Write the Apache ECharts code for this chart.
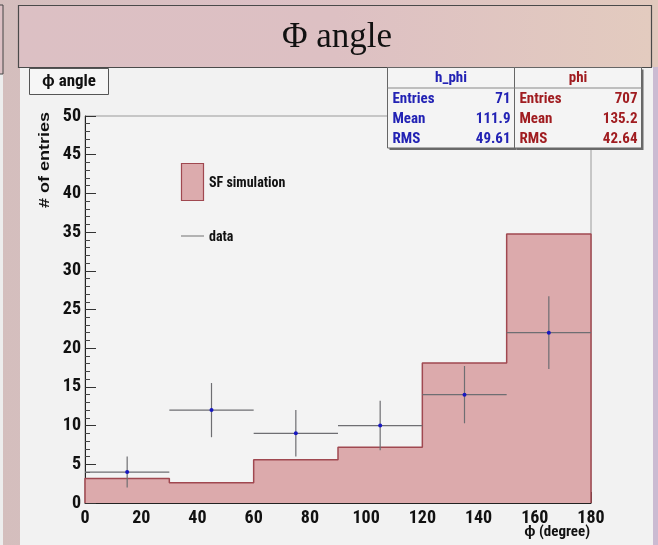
<!DOCTYPE html>
<html>
<head>
<meta charset="utf-8">
<script src="https://cdn.jsdelivr.net/npm/echarts@6/dist/echarts.min.js"></script>
<style>
html,body{margin:0;padding:0;}
body{width:658px;height:545px;overflow:hidden;background:linear-gradient(90deg,#d4bebd 0%,#dcc0c5 40%,#e1c9bd 100%);}
#chart{width:658px;height:545px;}
</style>
</head>
<body>
<div id="chart"></div>
<script>
// ---- data ----
const binEdges = [0, 30, 60, 90, 120, 150, 180];
const simCounts = [3.15, 2.62, 5.6, 7.2, 18.1, 34.75];
const dataX = [15, 45, 75, 105, 135, 165];
const dataY = [4, 12, 9, 10, 14, 22];
const dataErr = [2.0, 3.5, 3.0, 3.2, 3.7, 4.7];
const statLabels = ['Entries', 'Mean', 'RMS'];
const hphiStats = ['71', '111.9', '49.61'];
const phiStats = ['707', '135.2', '42.64'];

const FONT = '"Liberation Sans Narrow","Roboto Condensed","Liberation Sans",Arial,sans-serif';
const WIDE = '"Liberation Sans",Arial,sans-serif';

// step outline points built from bin edges
const stepPts = [[binEdges[0], 0]];
for (let i = 0; i < simCounts.length; i++) stepPts.push([binEdges[i], simCounts[i]]);
stepPts.push([binEdges[binEdges.length - 1], simCounts[simCounts.length - 1]]);
stepPts.push([binEdges[binEdges.length - 1], 0]);

const halfW = (binEdges[1] - binEdges[0]) / 2;
const errData = dataX.map((x, i) => [x, dataY[i], dataErr[i]]);

function statsBox(x, y, w, title, values, color) {
  const rowY = [99, 119, 139];
  const els = [
    {type: 'rect', shape: {x: x + 2, y: y + 2, width: w, height: 148 - y}, style: {fill: '#6a6a6a'}, z: 10},
    {type: 'rect', shape: {x: x, y: y, width: w, height: 148 - y}, style: {fill: '#f4f4f4', stroke: '#666', lineWidth: 1}, z: 11},
    {type: 'line', shape: {x1: x, y1: 88, x2: x + w, y2: 88}, style: {stroke: '#888', lineWidth: 1}, z: 12},
    {type: 'text', x: x + w / 2, y: 78, style: {text: title, fill: color, font: 'bold 15px ' + FONT, align: 'center', verticalAlign: 'middle'}, z: 12}
  ];
  statLabels.forEach((lab, i) => {
    els.push({type: 'text', x: x + 5, y: rowY[i], style: {text: lab, fill: color, font: 'bold 15px ' + FONT, align: 'left', verticalAlign: 'middle'}, z: 12});
    els.push({type: 'text', x: x + w - 4, y: rowY[i], style: {text: values[i], fill: color, font: 'bold 15px ' + FONT, align: 'right', verticalAlign: 'middle'}, z: 12});
  });
  return els;
}

const chart = echarts.init(document.getElementById('chart'), null, {renderer: 'canvas'});

const graphics = [
  // ROOT canvas background
  {type: 'rect', shape: {x: 20, y: 67, width: 633, height: 478}, style: {fill: '#f2f2f2'}, z: -10},
  // right lavender strip
  {type: 'rect', shape: {x: 653, y: 67, width: 5, height: 478}, style: {fill: '#cbbbd2'}, z: -10},
  // left light strip
  {type: 'rect', shape: {x: 0, y: 74, width: 3, height: 471}, style: {fill: '#ededed'}, z: -10},
  // left partial box
  {type: 'rect', shape: {x: -5, y: 5, width: 8, height: 69}, style: {fill: '#dcc0c4', stroke: '#444', lineWidth: 1}, z: -5},
  // slide title box
  {type: 'rect', shape: {x: 18.5, y: 5.5, width: 633, height: 62},
   style: {fill: new echarts.graphic.LinearGradient(0, 0, 1, 0, [{offset: 0, color: '#dcc0c4'}, {offset: 0.5, color: '#ddc0c3'}, {offset: 1, color: '#e3cbbf'}]), stroke: '#4a4a4a', lineWidth: 1.2}, z: 5},
  {type: 'text', x: 337, y: 38, style: {text: 'Φ angle', fill: '#111', font: '35px "Liberation Serif","DejaVu Serif",serif', align: 'center', verticalAlign: 'middle'}, z: 6},
  // histogram title box
  {type: 'rect', shape: {x: 29.5, y: 68.5, width: 79, height: 26}, style: {fill: '#f6f6f6', stroke: '#555', lineWidth: 1}, z: 6},
  {type: 'text', x: 69, y: 82, style: {text: 'ϕ angle', fill: '#111', font: 'bold 17px ' + FONT, align: 'center', verticalAlign: 'middle'}, z: 7},
  // y axis title
  {type: 'text', x: 45, y: 160, rotation: Math.PI / 2, scaleY: 0.85, style: {text: '# of entries', fill: '#111', font: 'bold 18px ' + WIDE, align: 'center', verticalAlign: 'middle'}, z: 7},
  // x axis title
  {type: 'text', x: 590, y: 532, style: {text: 'ϕ (degree)', fill: '#111', font: 'bold 15px ' + FONT, align: 'right', verticalAlign: 'middle'}, z: 7},
  // legend
  {type: 'rect', shape: {x: 181.5, y: 163.5, width: 22, height: 37}, style: {fill: '#dcabad', stroke: '#a04850', lineWidth: 1.2}, z: 7},
  {type: 'text', x: 209, y: 183, style: {text: 'SF simulation', fill: '#111', font: 'bold 14px ' + FONT, align: 'left', verticalAlign: 'middle'}, z: 7},
  {type: 'line', shape: {x1: 181, y1: 236, x2: 204, y2: 236}, style: {stroke: '#888', lineWidth: 1.2}, z: 7},
  {type: 'text', x: 209, y: 237, style: {text: 'data', fill: '#111', font: 'bold 14px ' + FONT, align: 'left', verticalAlign: 'middle'}, z: 7}
].concat(statsBox(387.5, 67.5, 127, 'h_phi', hphiStats, '#2222b4'))
 .concat(statsBox(514.5, 67.5, 127, 'phi', phiStats, '#a01c20'));

chart.setOption({
  animation: false,
  backgroundColor: 'transparent',
  grid: {left: 85, right: 67, top: 116, bottom: 42, show: true, backgroundColor: '#f3f3f3', borderColor: '#9a9a9a', borderWidth: 1},
  xAxis: {
    type: 'value', min: 0, max: 180, interval: 20,
    axisLine: {lineStyle: {color: '#222', width: 1}},
    axisTick: {inside: true, length: 11, lineStyle: {color: '#333'}},
    minorTick: {show: true, splitNumber: 4, length: 5, lineStyle: {color: '#444'}},
    splitLine: {show: false},
    axisLabel: {color: '#111', fontFamily: FONT, fontWeight: 'bold', fontSize: 18, margin: 6}
  },
  yAxis: {
    type: 'value', min: 0, max: 50, interval: 5,
    axisLine: {show: true, lineStyle: {color: '#222', width: 1}},
    axisTick: {show: true, inside: true, length: 11, lineStyle: {color: '#333'}},
    minorTick: {show: true, splitNumber: 5, length: 5, lineStyle: {color: '#444'}},
    splitLine: {show: false},
    axisLabel: {color: '#111', fontFamily: FONT, fontWeight: 'bold', fontSize: 18, margin: 4}
  },
  graphic: graphics,
  series: [
    {
      type: 'line', step: 'end', data: stepPts, symbol: 'none', z: 2,
      lineStyle: {color: '#a04850', width: 1.5},
      areaStyle: {color: '#dcaaac', opacity: 1}
    },
    {
      type: 'custom', z: 5,
      data: errData,
      renderItem: function (params, api) {
        const x = api.value(0), y = api.value(1), e = api.value(2);
        const c = api.coord([x, y]);
        const l = api.coord([x - halfW, y]);
        const r = api.coord([x + halfW, y]);
        const t = api.coord([x, y + e]);
        const b = api.coord([x, y - e]);
        const st = {stroke: '#6e6e72', lineWidth: 1.2};
        return {
          type: 'group',
          children: [
            {type: 'line', shape: {x1: l[0], y1: c[1], x2: r[0], y2: c[1]}, style: st},
            {type: 'line', shape: {x1: c[0], y1: t[1], x2: c[0], y2: b[1]}, style: st},
            {type: 'circle', shape: {cx: c[0], cy: c[1], r: 2}, style: {fill: '#1818c0'}}
          ]
        };
      }
    }
  ]
});
</script>
</body>
</html>
